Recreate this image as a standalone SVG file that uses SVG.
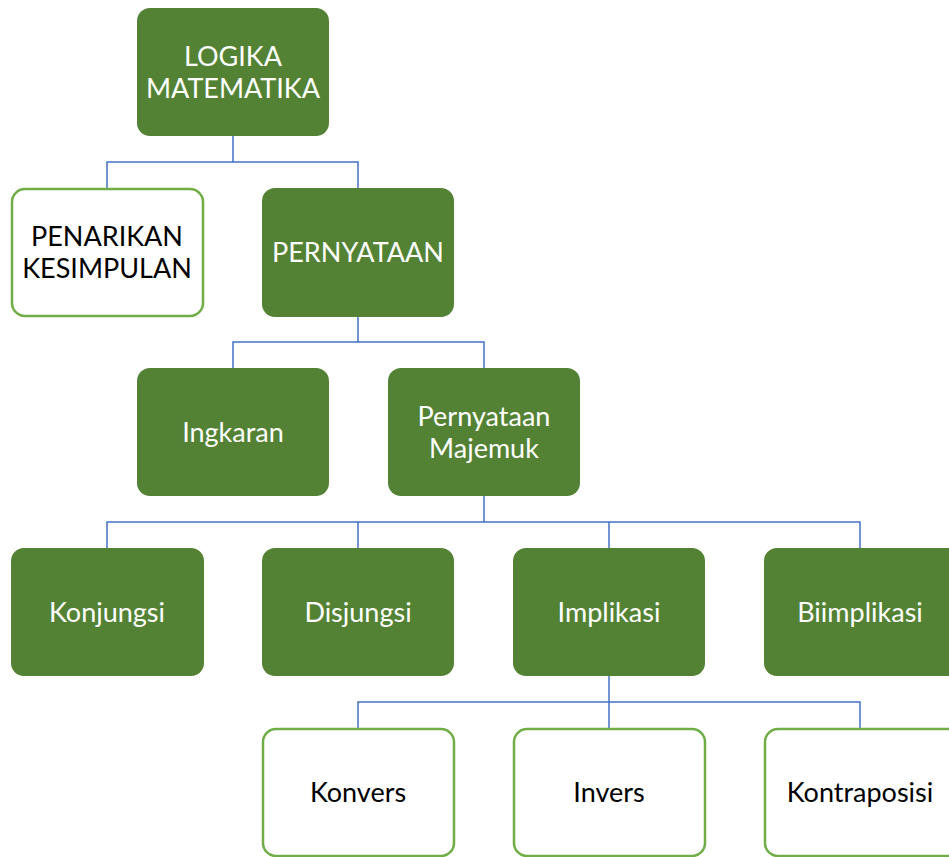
<svg xmlns="http://www.w3.org/2000/svg" width="949" height="857" viewBox="0 0 949 857">
<style>
.g{fill:#548235;}
.w{fill:#ffffff;stroke:#70AD47;stroke-width:2.5;}
.tw{fill:#ffffff;font-family:Lato,"Liberation Sans",sans-serif;font-size:27px;text-anchor:middle;}
.tb{fill:#000000;font-family:Lato,"Liberation Sans",sans-serif;font-size:27px;text-anchor:middle;}
.c{fill:none;stroke:#4472C4;stroke-width:1.5;}
</style>
<rect width="949" height="857" fill="#ffffff"/>
<g id="connectors">
<path class="c" d="M233,136 V162 M107,188 V162 H358 V188"/>
<path class="c" d="M358,317 V342 M233,368 V342 H484 V368"/>
<path class="c" d="M484,496 V522 M107,548 V522 H860 V548 M358,522 V548 M609,522 V548"/>
<path class="c" d="M609,676 V702 M358,728 V702 H860 V728 M609,702 V728"/>
</g>
<g id="logika"><rect class="g" x="137" y="8" width="192" height="128" rx="13"/><text class="tw" x="233" y="66">LOGIKA</text><text class="tw" x="233" y="98">MATEMATIKA</text></g>
<g id="penarikan"><rect class="w" x="12" y="189" width="191" height="127" rx="13"/><text class="tb" x="107" y="246">PENARIKAN</text><text class="tb" x="107" y="278">KESIMPULAN</text></g>
<g id="pernyataan"><rect class="g" x="262" y="188" width="192" height="129" rx="13"/><text class="tw" x="358" y="262">PERNYATAAN</text></g>
<g id="ingkaran"><rect class="g" x="137" y="368" width="192" height="128" rx="13"/><text class="tw" x="233" y="442">Ingkaran</text></g>
<g id="majemuk"><rect class="g" x="388" y="368" width="192" height="128" rx="13"/><text class="tw" x="484" y="426">Pernyataan</text><text class="tw" x="484" y="458">Majemuk</text></g>
<g id="konjungsi"><rect class="g" x="11" y="548" width="193" height="128" rx="13"/><text class="tw" x="107" y="622">Konjungsi</text></g>
<g id="disjungsi"><rect class="g" x="262" y="548" width="192" height="128" rx="13"/><text class="tw" x="358" y="622">Disjungsi</text></g>
<g id="implikasi"><rect class="g" x="513" y="548" width="192" height="128" rx="13"/><text class="tw" x="609" y="622">Implikasi</text></g>
<g id="biimplikasi"><rect class="g" x="764" y="548" width="198" height="128" rx="13"/><text class="tw" x="860" y="622">Biimplikasi</text></g>
<g id="konvers"><rect class="w" x="263" y="729" width="191" height="127" rx="13"/><text class="tb" x="358" y="802">Konvers</text></g>
<g id="invers"><rect class="w" x="514" y="729" width="191" height="127" rx="13"/><text class="tb" x="609" y="802">Invers</text></g>
<g id="kontraposisi"><rect class="w" x="765" y="729" width="197" height="127" rx="13"/><text class="tb" x="860" y="802">Kontraposisi</text></g>
</svg>
